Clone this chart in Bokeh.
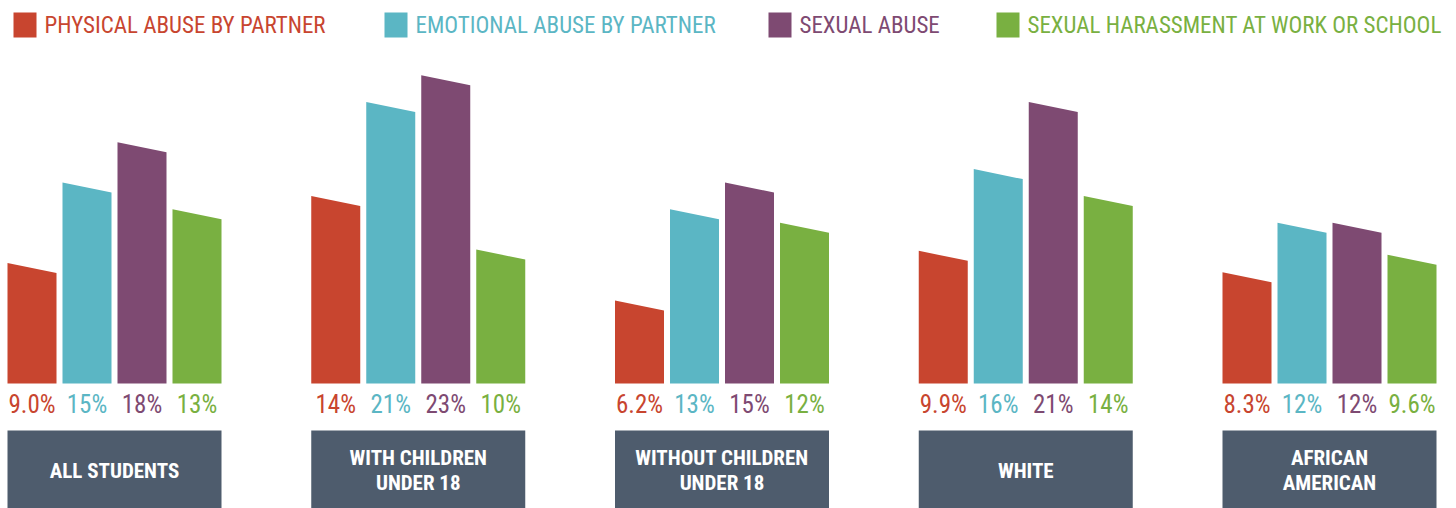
from bokeh.plotting import figure
from bokeh.models import Range1d, ColumnDataSource
from bokeh.embed import file_html
from bokeh.resources import INLINE
from bokeh.core.properties import value

# ---------------- data ----------------
groups = ["ALL STUDENTS", "WITH CHILDREN\nUNDER 18", "WITHOUT CHILDREN\nUNDER 18",
          "WHITE", "AFRICAN\nAMERICAN"]
series = ["PHYSICAL ABUSE BY PARTNER", "EMOTIONAL ABUSE BY PARTNER",
          "SEXUAL ABUSE", "SEXUAL HARASSMENT AT WORK OR SCHOOL"]
physical = [9.0, 14, 6.2, 9.9, 8.3]
emotional = [15, 21, 13, 16, 12]
sexual = [18, 23, 15, 21, 12]
harassment = [13, 10, 12, 14, 9.6]
values_by_series = [physical, emotional, sexual, harassment]

# ---------------- styles / layout ----------------
colors = ["#c8452f", "#5bb6c4", "#7e4a72", "#79b041"]
BOX_COLOR = "#4e5c6d"
FONT = value("'Roboto Condensed', 'DejaVu Sans Condensed', 'Liberation Sans Narrow', Roboto, sans-serif")
W, H = 1456, 508
PX = 13.4            # pixels per percentage point
BASE = 383           # picture y of the bars' baseline
TOP, BOTTOM = 0, H
GROUP_X0, GROUP_STEP = 7, 303.75
BAR_STEP, BAR_W = 55, 49
BOX_W = 214
SLANT = 10 / PX      # drop of the slanted bar top, in value units


def to_v(page_y):
    return (BASE - page_y) / PX


p = figure(width=W, height=H, output_backend="svg", toolbar_location=None,
           x_range=Range1d(0, W), y_range=Range1d(to_v(BOTTOM), to_v(TOP)),
           min_border=0, outline_line_color=None)
p.axis.visible = False
p.grid.visible = False
p.background_fill_color = "white"
p.border_fill_color = "white"

xs, ys, fc, lx, ltxt, lcol = [], [], [], [], [], []
for g in range(len(groups)):
    gx = GROUP_X0 + g * GROUP_STEP
    for i, vals in enumerate(values_by_series):
        v = vals[g]
        l = gx + i * BAR_STEP
        r = l + BAR_W
        xs.append([l, l, r, r])
        ys.append([0, v, v - SLANT, 0])
        fc.append(colors[i])
        lx.append(l + BAR_W / 2)
        ltxt.append(f"{v:.1f}%" if v < 10 else f"{v:.0f}%")
        lcol.append(colors[i])

p.patches(xs="xs", ys="ys", fill_color="c", line_color=None,
          source=ColumnDataSource(dict(xs=xs, ys=ys, c=fc)))
p.text(x="x", y="y", text="t", text_color="c",
       source=ColumnDataSource(dict(x=lx, y=[to_v(404)] * len(lx), t=ltxt, c=lcol)),
       text_font=FONT, text_font_size="25px", text_align="center",
       text_baseline="middle")

# category boxes
gl = [GROUP_X0 + g * GROUP_STEP for g in range(len(groups))]
p.quad(left=gl, right=[x + BOX_W for x in gl], top=to_v(430), bottom=to_v(540),
       fill_color=BOX_COLOR, line_color=None)
p.text(x=[x + BOX_W / 2 for x in gl], y=[to_v(470)] * len(gl), text=groups,
       text_color="white", text_font=FONT, text_font_size="21px",
       text_font_style="bold", text_align="center", text_baseline="middle",
       text_line_height=1.05)

# legend
leg_x = [13, 384, 768, 996]
p.quad(left=leg_x, right=[x + 23 for x in leg_x], top=to_v(12), bottom=to_v(37),
       fill_color=colors, line_color=None)
p.text(x=[x + 31 for x in leg_x], y=[to_v(25)] * 4, text=series, text_color=colors,
       text_font=FONT, text_font_size="23px", text_align="left",
       text_baseline="middle")

open("out.html", "w").write(file_html(p, INLINE))
